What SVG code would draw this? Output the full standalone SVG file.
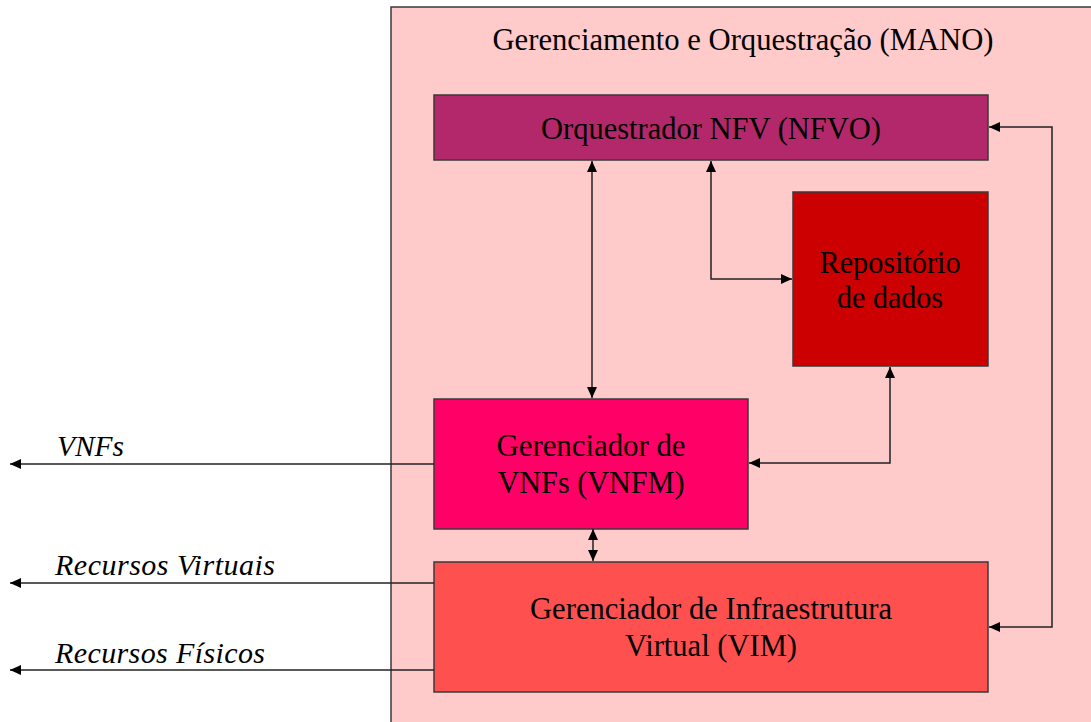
<svg xmlns="http://www.w3.org/2000/svg" width="1091" height="722" viewBox="0 0 1091 722">
<style>
.box{stroke:#3a3a3a;stroke-width:1.5}
.t{font-family:"Liberation Serif","Times New Roman",serif;font-size:32px;fill:#000;text-anchor:middle}
.it{font-family:"Liberation Serif","Times New Roman",serif;font-size:30px;font-style:italic;fill:#000}
.c{fill:none;stroke:#222;stroke-width:1.5}
</style>
<defs>
<marker id="ah" markerUnits="userSpaceOnUse" markerWidth="12" markerHeight="10" refX="11" refY="5" orient="auto-start-reverse">
<path d="M0,0 L11,5 L0,10 Z" fill="#000"/>
</marker>
</defs>
<rect x="0" y="0" width="1091" height="722" fill="#fff"/>
<g id="mano">
<rect class="box" x="391" y="7" width="710" height="730" fill="#FFCACA"/>
<text class="t" x="743" y="50" textLength="501" lengthAdjust="spacingAndGlyphs">Gerenciamento e Orquestração (MANO)</text>
</g>
<g id="nfvo">
<rect class="box" x="434" y="95" width="554" height="65" fill="#B3286A"/>
<text class="t" x="711" y="139" textLength="340" lengthAdjust="spacingAndGlyphs">Orquestrador NFV (NFVO)</text>
</g>
<g id="repo">
<rect class="box" x="793" y="192" width="195" height="174" fill="#CC0000"/>
<text class="t" x="890" y="273" textLength="141" lengthAdjust="spacingAndGlyphs">Repositório</text>
<text class="t" x="890" y="308" textLength="106" lengthAdjust="spacingAndGlyphs">de dados</text>
</g>
<g id="vnfm">
<rect class="box" x="434" y="399" width="314" height="130" fill="#FF0066"/>
<text class="t" x="591" y="456" textLength="189" lengthAdjust="spacingAndGlyphs">Gerenciador de</text>
<text class="t" x="591" y="493" textLength="187" lengthAdjust="spacingAndGlyphs">VNFs (VNFM)</text>
</g>
<g id="vim">
<rect class="box" x="434" y="562" width="554" height="130" fill="#FF5050"/>
<text class="t" x="711" y="619" textLength="362" lengthAdjust="spacingAndGlyphs">Gerenciador de Infraestrutura</text>
<text class="t" x="711" y="656" textLength="172" lengthAdjust="spacingAndGlyphs">Virtual (VIM)</text>
</g>
<g id="connectors">
<path class="c" d="M592,161 L592,398" marker-start="url(#ah)" marker-end="url(#ah)"/>
<path class="c" d="M711,161 L711,279 L792,279" marker-start="url(#ah)" marker-end="url(#ah)"/>
<path class="c" d="M749,463 L890,463 L890,367" marker-start="url(#ah)" marker-end="url(#ah)"/>
<path class="c" d="M593,529 L593,561" marker-start="url(#ah)" marker-end="url(#ah)"/>
<path class="c" d="M989,127 L1052,127 L1052,627 L989,627" marker-start="url(#ah)" marker-end="url(#ah)"/>
<path class="c" d="M434,464 L10,464" marker-end="url(#ah)"/>
<path class="c" d="M434,583 L10,583" marker-end="url(#ah)"/>
<path class="c" d="M434,670 L10,670" marker-end="url(#ah)"/>
</g>
<g id="labels">
<text class="it" x="57" y="456" textLength="67" lengthAdjust="spacingAndGlyphs">VNFs</text>
<text class="it" x="55" y="575" textLength="220" lengthAdjust="spacing">Recursos Virtuais</text>
<text class="it" x="55" y="663" textLength="210" lengthAdjust="spacing">Recursos Físicos</text>
</g>
</svg>
